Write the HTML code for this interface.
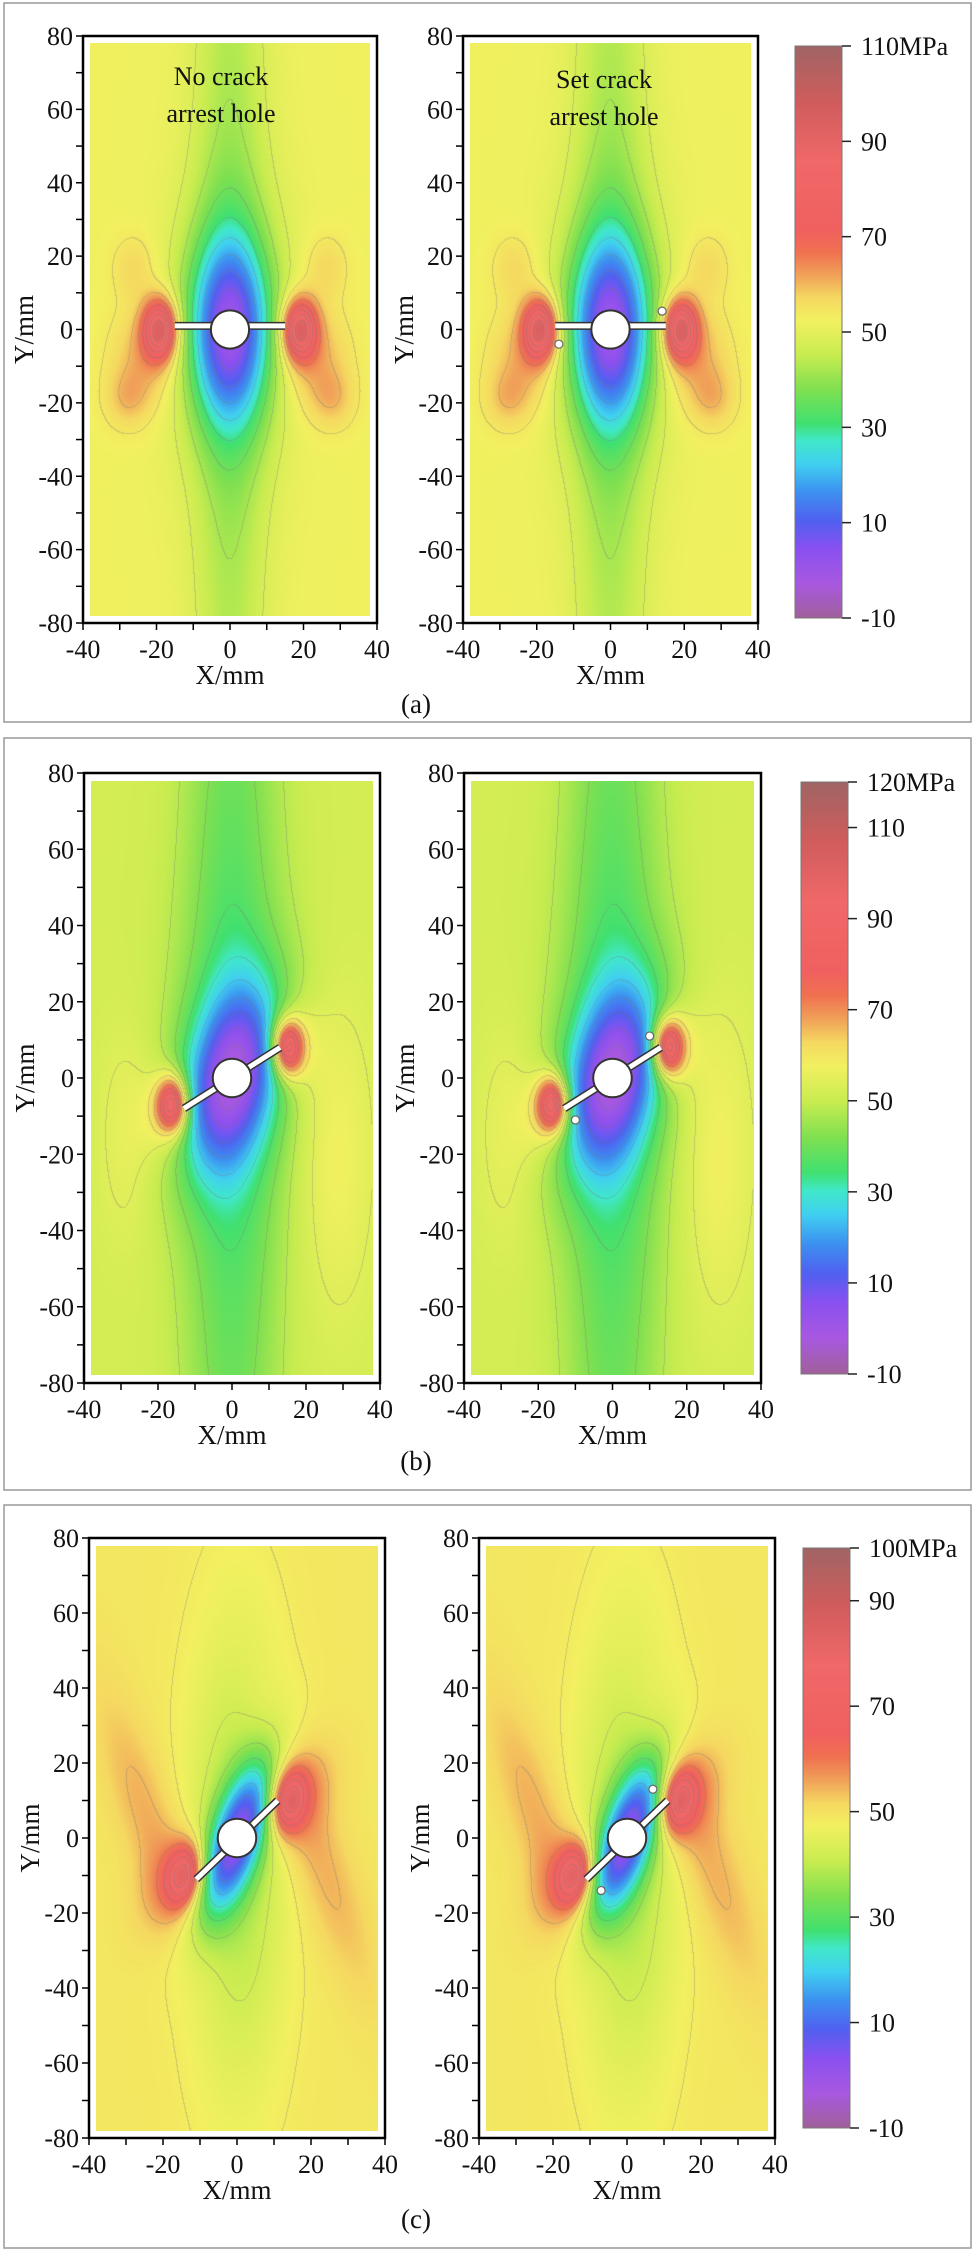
<!DOCTYPE html>
<html><head><meta charset="utf-8">
<style>
html,body{margin:0;padding:0;background:#fff;}
#root{position:relative;width:975px;height:2251px;overflow:hidden;background:#fff;}
canvas{position:absolute;}
svg{position:absolute;left:0;top:0;}
text{font-family:"Liberation Serif",serif;fill:#111;}
</style></head>
<body>
<div id="root"></div>
<script>
// ---- data arrays ----
const xTicks=[-40,-20,0,20,40];
const yTicks=[80,60,40,20,0,-20,-40,-60,-80];
const aCbTicks=[110,90,70,50,30,10,-10];
const bCbTicks=[120,110,90,70,50,30,10,-10];
const cCbTicks=[100,90,70,50,30,10,-10];
// field features (mm / MPa)
const aFeatX=[0,0,0,-19,19,-23,23,-28,28,-26,26];
const aFeatY=[0,0,0,0,0,-8,-8,-19,-19,17,17];
const aFeatAmp=[-10,-6,-37,40,40,9,9,6,6,5,5];
const aFeatMaj=[200,45,25,8,8,14,14,8,8,9,9];
const aFeatMin=[10,16,11,4.5,4.5,9,9,6,6,6,6];
const aFeatAng=[90,90,90,90,90,90,90,90,90,90,90];
const aBase=52;
const bFeatX=[0,0,0,-16,15,-18,17,28,-28];
const bFeatY=[0,0,0,-7,8,-10,9,-20,-15];
const bFeatAmp=[-14,-5,-38,45,45,10,10,6,4];
const bFeatMaj=[200,50,24,7,7,12,12,40,30];
const bFeatMin=[13,20,12,4,4,7,7,10,8];
const bFeatAng=[90,90,75,90,90,90,90,90,90];
const bBase=52;
const cFeatX=[0,0,-24,22,-14,14,-18,18];
const cFeatY=[-5,0,5,-5,-10,10,-12,12];
const cFeatAmp=[-11,-38,6,6,30,30,7,7];
const cFeatMaj=[60,22,36,38,8,8,14,14];
const cFeatMin=[13,7,8,8,4.5,4.5,8,8];
const cFeatAng=[90,70,-71,-70,80,80,70,70];
const cBase=49;
// colormap (fraction of colorbar range)
const cmapT=[0,0.06,0.12,0.17,0.22,0.27,0.31,0.34,0.40,0.46,0.52,0.56,0.60,0.64,0.68,0.80,0.90,1.0];
const cmapC=["#a0609a","#a858e0","#8a50f0","#5060f0","#3c90f0","#40d0f0","#40e8c8","#40e070","#80e050","#c8ec50","#f2f060","#f5d860","#f0a058","#f07050","#f06060","#f06868","#d05c5c","#a06464"];

const panels=[
 {id:'a',box:[3,722],frames:[[83,377],[463,758]],fy:[36,623],cb:[795,842,46,618],vmin:-10,vmax:110,ticks:aCbTicks,
  base:aBase,fx:aFeatX,fyv:aFeatY,amp:aFeatAmp,maj:aFeatMaj,min:aFeatMin,ang:aFeatAng,
  crack:[[-15,1],[15,1]],arrest:[[-14,-4],[14,5]],cap:'(a)',capY:713},
 {id:'b',box:[738,1490],frames:[[84,380],[464,761]],fy:[773,1383],cb:[801,848,782,1374],vmin:-10,vmax:120,ticks:bCbTicks,
  base:bBase,fx:bFeatX,fyv:bFeatY,amp:bFeatAmp,maj:bFeatMaj,min:bFeatMin,ang:bFeatAng,
  crack:[[-13,-8],[13,8]],arrest:[[-10,-11],[10,11]],cap:'(b)',capY:1470},
 {id:'c',box:[1505,2248],frames:[[89,385],[479,775]],fy:[1538,2138],cb:[803,850,1548,2128],vmin:-10,vmax:100,ticks:cCbTicks,
  base:cBase,fx:cFeatX,fyv:cFeatY,amp:cFeatAmp,maj:cFeatMaj,min:cFeatMin,ang:cFeatAng,
  crack:[[-11,-11],[11,10]],arrest:[[-7,-14],[7,13]],cap:'(c)',capY:2228}
];

function hex(c){return [parseInt(c.slice(1,3),16),parseInt(c.slice(3,5),16),parseInt(c.slice(5,7),16)];}
const cmapRGB=cmapC.map(hex);
function cmap(t){t=Math.max(0,Math.min(1,t));for(let i=1;i<cmapT.length;i++){if(t<=cmapT[i]){const f=(t-cmapT[i-1])/(cmapT[i]-cmapT[i-1]);const a=cmapRGB[i-1],b=cmapRGB[i];return [a[0]+(b[0]-a[0])*f,a[1]+(b[1]-a[1])*f,a[2]+(b[2]-a[2])*f];}}return cmapRGB[cmapRGB.length-1];}
function field(P,x,y){let v=P.base;for(let i=0;i<P.amp.length;i++){const th=P.ang[i]*Math.PI/180;const dx=x-P.fx[i],dy=y-P.fyv[i];const u=(dx*Math.cos(th)+dy*Math.sin(th))/P.maj[i];const w=(-dx*Math.sin(th)+dy*Math.cos(th))/P.min[i];v+=P.amp[i]*Math.exp(-(u*u+w*w));}return v;}

const root=document.getElementById('root');
const NS="http://www.w3.org/2000/svg";
const svg=document.createElementNS(NS,'svg');
svg.setAttribute('width',975);svg.setAttribute('height',2251);


function mk(tag,attrs,parent){const e=document.createElementNS(NS,tag);for(const k in attrs)e.setAttribute(k,attrs[k]);if(tag==='text')e.setAttribute('font-family','Liberation Serif, serif');(parent||svg).appendChild(e);return e;}

const defs=mk('defs',{});
const grad=mk('linearGradient',{id:'cbgrad',x1:0,y1:1,x2:0,y2:0},defs);
for(let i=0;i<cmapT.length;i++){mk('stop',{offset:cmapT[i],'stop-color':cmapC[i]},grad);}

panels.forEach(P=>{
 const g=mk('g',{});
 
 
 const box=mk('rect',{x:4,y:P.box[0],width:967,height:P.box[1]-P.box[0],fill:'none',stroke:'#999','stroke-width':1.5},g);
 
 
 const T=P.fy[0],B=P.fy[1];
 const ys=v=>T+(80-v)/160*(B-T);
 P.frames.forEach((fr,k)=>{
  const L=fr[0],R=fr[1];
  const xs=v=>L+(v+40)/80*(R-L);
  const x0=Math.round(xs(-38)),x1=Math.round(xs(38)),y0=Math.round(ys(78)),y1=Math.round(ys(-78));
  const W=x1-x0,H=y1-y0;
  const cv=document.createElement('canvas');
  cv.width=W;cv.height=H;cv.style.left=x0+'px';cv.style.top=y0+'px';
  
  
  root.appendChild(cv);
  const ctx=cv.getContext('2d');const img=ctx.createImageData(W,H);
  const vals=new Float32Array(W*H);
  for(let j=0;j<H;j++){const my=80-(y0+j+0.5-T)/(B-T)*160;for(let i=0;i<W;i++){const mx=(x0+i+0.5-L)/(R-L)*80-40;vals[j*W+i]=field(P,mx,my);}}
  const step=6;
  for(let j=0;j<H;j++)for(let i=0;i<W;i++){const v=vals[j*W+i];let c=cmap((v-P.vmin)/(P.vmax-P.vmin));const lv=Math.floor(v/step);
   let edge=false;if(i<W-1&&Math.floor(vals[j*W+i+1]/step)!==lv)edge=true;if(j<H-1&&Math.floor(vals[(j+1)*W+i]/step)!==lv)edge=true;
   const o=(j*W+i)*4;if(edge){c=[c[0]*0.7+35,c[1]*0.7+35,c[2]*0.7+35];}
   img.data[o]=c[0];img.data[o+1]=c[1];img.data[o+2]=c[2];img.data[o+3]=255;}
  ctx.putImageData(img,0,0);
  const fr2=mk('rect',{x:L,y:T,width:R-L,height:B-T,fill:'none',stroke:'#000','stroke-width':2.5},g);
  
  
  for(let v=-40;v<=40;v+=10){const t=mk('line',{x1:xs(v),x2:xs(v),y1:B,y2:B+7,stroke:'#000','stroke-width':1.5},g);}
  for(let v=-80;v<=80;v+=10){const t=mk('line',{x1:L-7,x2:L,y1:ys(v),y2:ys(v),stroke:'#000','stroke-width':1.5},g);}
  xTicks.forEach(v=>{const t=mk('text',{x:xs(v),y:B+35,'font-size':26,'text-anchor':'middle'},g);t.textContent=v;});
  yTicks.forEach(v=>{const t=mk('text',{x:L-10,y:ys(v)+9,'font-size':26,'text-anchor':'end'},g);t.textContent=v;});
  const xl=mk('text',{x:(L+R)/2,y:B+61,'font-size':27,'text-anchor':'middle'},g);xl.textContent='X/mm';
  
  
  const yl=mk('text',{x:0,y:0,'font-size':27,'text-anchor':'middle',transform:'translate('+(L-50)+','+ys(0)+') rotate(-90)'},g);yl.textContent='Y/mm';
  
  
  const c0=P.crack[0],c1=P.crack[1];
  const ck=mk('line',{x1:xs(c0[0]),y1:ys(c0[1]),x2:xs(c1[0]),y2:ys(c1[1]),stroke:'#333','stroke-width':8},g);
  
  
  const ck2=mk('line',{x1:xs(c0[0]),y1:ys(c0[1]),x2:xs(c1[0]),y2:ys(c1[1]),stroke:'#fff','stroke-width':5},g);
  
  
  const hole=mk('circle',{cx:xs(0),cy:ys(0),r:(R-L)/80*5.2,fill:'#fff',stroke:'#333','stroke-width':2},g);
  
  
  if(k===1){P.arrest.forEach(p=>{const h=mk('circle',{cx:xs(p[0]),cy:ys(p[1]),r:4,fill:'#fff',stroke:'#666','stroke-width':1.2},g);});}
  if(P.id==='a'){
   const lines=k===0?['No crack','arrest hole']:['Set crack','arrest hole'];
   const cxm=k===0?221:604;const cy0=k===0?85:88;
   lines.forEach((s,i)=>{const t=mk('text',{x:cxm,y:cy0+i*37,'font-size':26,'text-anchor':'middle'},g);t.textContent=s;});
  }
 });
 const cb=P.cb;
 const bar=mk('rect',{x:cb[0],y:cb[2],width:cb[1]-cb[0],height:cb[3]-cb[2],fill:'url(#cbgrad)',stroke:'#777','stroke-width':1},g);
 
 
 const cys=v=>cb[3]-(v-P.vmin)/(P.vmax-P.vmin)*(cb[3]-cb[2]);
 P.ticks.forEach((v,i)=>{
  const tl=mk('line',{x1:cb[1],x2:cb[1]+9,y1:cys(v),y2:cys(v),stroke:'#222','stroke-width':1.5},g);
  
  
  const t=mk('text',{x:cb[1]+19,y:cys(v)+9,'font-size':26},g);t.textContent=i===0?v+'MPa':v;
  
  
 });
 const cap=mk('text',{x:416,y:P.capY,'font-size':27,'text-anchor':'middle'},g);cap.textContent=P.cap;
 
 
});
root.appendChild(svg);
</script>
</body></html>
